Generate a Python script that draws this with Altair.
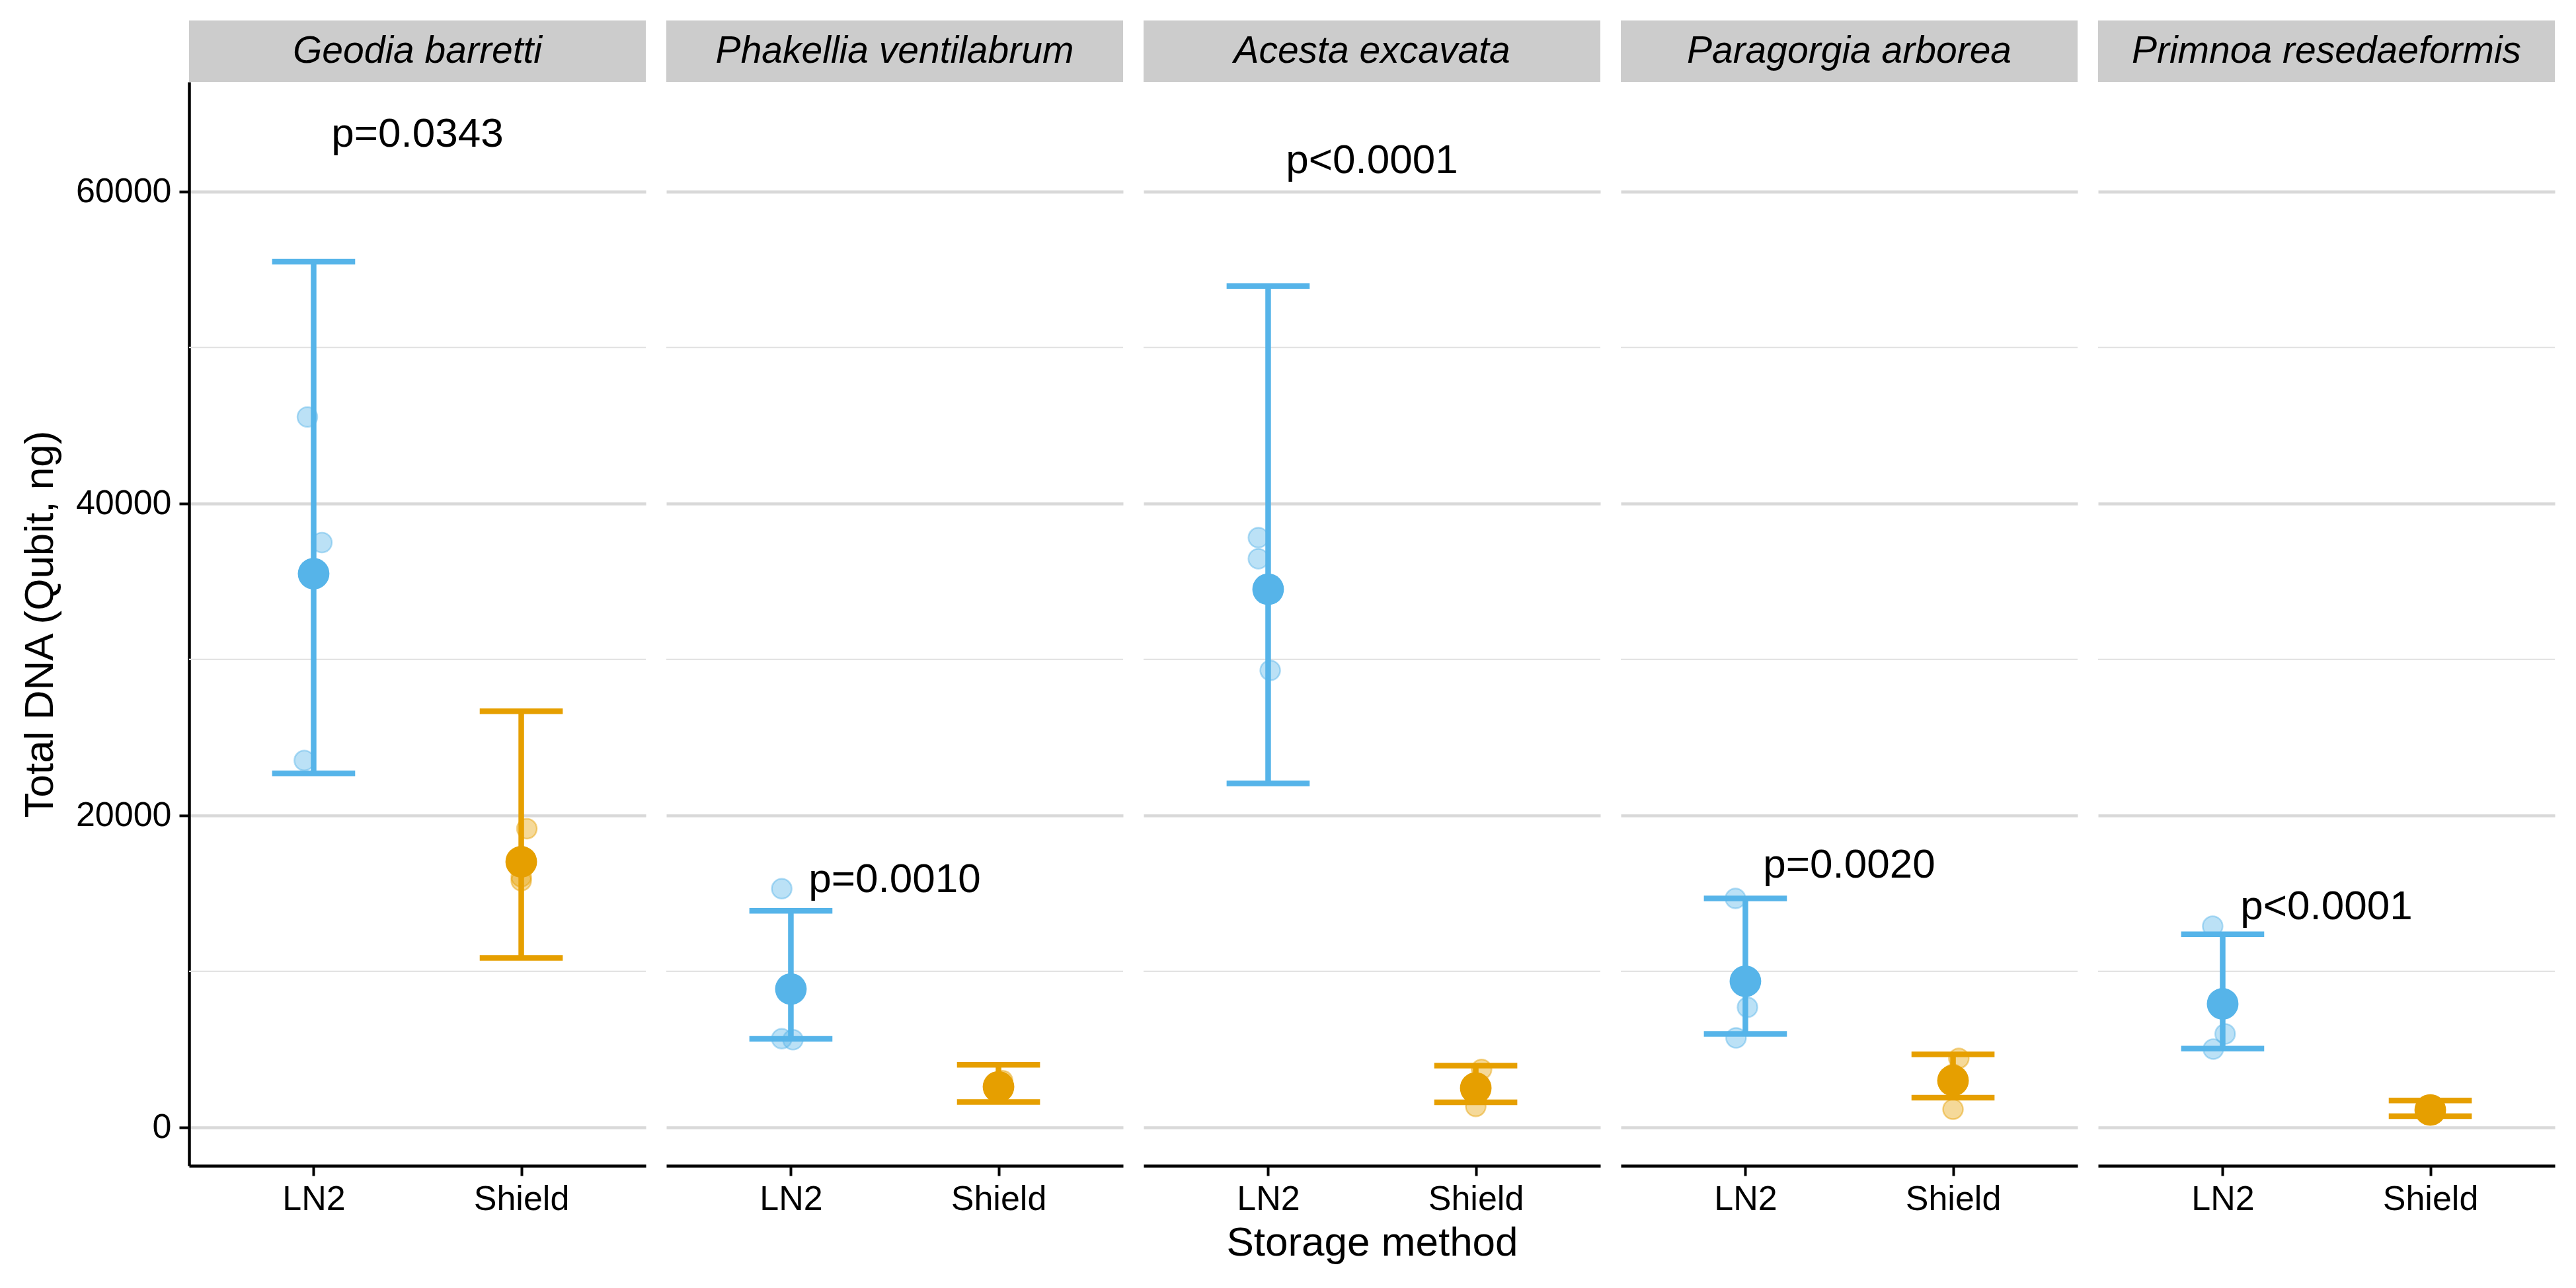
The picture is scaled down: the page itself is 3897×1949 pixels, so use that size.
import altair as alt
import pandas as pd

# ---------------- data ----------------
species = ["Geodia barretti", "Phakellia ventilabrum", "Acesta excavata",
           "Paragorgia arborea", "Primnoa resedaeformis"]
methods = ["LN2", "Shield"]

ln2_mean = [35500, 8870, 34500, 9370, 7920]
ln2_lo = [22700, 5680, 22050, 5990, 5050]
ln2_hi = [55500, 13890, 53950, 14680, 12380]

shield_mean = [17030, 2600, 2520, 3000, 1115]
shield_lo = [10870, 1630, 1610, 1900, 715]
shield_hi = [26680, 4010, 3960, 4680, 1725]

ln2_points = [[45550, 37500, 23520], [15300, 5690, 5620], [37810, 36460, 29300],
              [14680, 7700, 5735], [12900, 5990, 5020]]
ln2_jitter = [[-0.03, 0.04, -0.045], [-0.044, -0.044, 0.01], [-0.047, -0.047, 0.01],
              [-0.048, 0.01, -0.045], [-0.048, 0.012, -0.045]]
shield_points = [[19150, 16070, 15810], [3000, 2550, 2250], [3720, 2500, 1340],
                 [4430, 3410, 1160], [1400, 1100, 850]]
shield_jitter = [[0.027, 0.0, 0.0], [0.02, 0.0, -0.01], [0.028, 0.0, 0.0],
                 [0.028, 0.0, 0.0], [0.0, 0.01, 0.0]]

p_labels = ["p=0.0343", "p=0.0010", "p<0.0001", "p=0.0020", "p<0.0001"]
p_label_y = [63700, 15870, 61980, 16800, 14160]

y_ticks = [0, 20000, 40000, 60000]
y_minor = [10000, 30000, 50000]
y_domain = [-2460, 67030]

colors = ["#56B4E9", "#E69F00"]
FONT = "Liberation Sans"

# ---------------- tables ----------------
sum_rows, pt_rows, lab_rows = [], [], []
for i, sp in enumerate(species):
    for j, (m, mn, lo, hi, pts, jit) in enumerate([
        ("LN2", ln2_mean[i], ln2_lo[i], ln2_hi[i], ln2_points[i], ln2_jitter[i]),
        ("Shield", shield_mean[i], shield_lo[i], shield_hi[i], shield_points[i], shield_jitter[i]),
    ]):
        pos = methods.index(m) + 1
        sum_rows.append(dict(species=sp, method=m, pos=pos, mean=mn, lo=lo, hi=hi))
        for v, jx in zip(pts, jit):
            pt_rows.append(dict(species=sp, method=m, xj=pos + jx, value=v))
    lab_rows.append(dict(species=sp, label=p_labels[i], px=(1 + len(methods)) / 2,
                         py=p_label_y[i]))

summary = pd.DataFrame(sum_rows)
points = pd.DataFrame(pt_rows)
labels = pd.DataFrame(lab_rows)
minor = pd.DataFrame({"v": y_minor})

W, H = 691, 1640
STRIP = 93

color_scale = alt.Scale(domain=methods, range=colors)
yscale = alt.Scale(domain=y_domain, nice=False, zero=False)
xscale = alt.Scale(domain=[0.4, 2.6], nice=False, zero=False)
label_expr = f"datum.value == 1 ? '{methods[0]}' : '{methods[1]}'"

AX = dict(labelFont=FONT, labelFontSize=52, labelColor="black",
          titleFont=FONT, titleFontSize=62, titleFontWeight="normal", titleColor="black",
          domainColor="black", domainWidth=4.5, tickColor="black", tickWidth=4,
          tickSize=15, gridColor="#D9D9D9", gridWidth=4.5)


def panel(i):
    sp = species[i]
    s = summary[summary.species == sp]
    p = points[points.species == sp]
    lab = labels[labels.species == sp]

    if i == 0:
        yaxis = alt.Axis(values=y_ticks, format="d", title="Total DNA (Qubit, ng)",
                         grid=True, titlePadding=22, labelPadding=12, **AX)
    else:
        yaxis = alt.Axis(values=y_ticks, labels=False, ticks=False, domain=False,
                         title=None, grid=True, gridColor="#D9D9D9", gridWidth=4.5)
    xaxis = alt.Axis(values=[1, 2], labelExpr=label_expr, grid=False,
                     title="Storage method" if i == 2 else None, titlePadding=10,
                     labelPadding=10, **AX)

    Y = lambda f: alt.Y(f, scale=yscale, axis=yaxis)
    X = lambda f: alt.X(f, scale=xscale, axis=xaxis)
    col = alt.Color("method:N", scale=color_scale, legend=None)

    minor_grid = alt.Chart(minor).mark_rule(color="#E3E3E3", strokeWidth=2.2).encode(
        y=Y("v:Q"))
    strip = alt.Chart(lab).mark_rect(color="#CCCCCC").encode(
        x=alt.value(0), x2=alt.value(W), y=alt.value(-STRIP), y2=alt.value(0))
    strip_text = alt.Chart(lab).mark_text(
        font=FONT, fontSize=57, fontStyle="italic", color="black",
        align="center", baseline="middle").encode(
        x=alt.value(W / 2), y=alt.value(-STRIP / 2), text="species:N")
    pts = alt.Chart(p).mark_circle(size=900, fillOpacity=0.4, strokeOpacity=0.45,
                                   strokeWidth=2.5).encode(
        x=X("xj:Q"), y=Y("value:Q"), color=col,
        stroke=alt.Stroke("method:N", scale=color_scale, legend=None))
    stem = alt.Chart(s).mark_rule(strokeWidth=8.5).encode(
        x=X("pos:Q"), y=Y("lo:Q"), y2="hi:Q", color=col)
    caps = alt.Chart(s).transform_calculate(
        xl="datum.pos - 0.2", xr="datum.pos + 0.2")
    cap_hi = caps.mark_rule(strokeWidth=8.5).encode(
        x=X("xl:Q"), x2="xr:Q", y=Y("hi:Q"), color=col)
    cap_lo = caps.mark_rule(strokeWidth=8.5).encode(
        x=X("xl:Q"), x2="xr:Q", y=Y("lo:Q"), color=col)
    means = alt.Chart(s).mark_circle(size=2290, opacity=1).encode(
        x=X("pos:Q"), y=Y("mean:Q"), color=col)
    ptxt = alt.Chart(lab).mark_text(font=FONT, fontSize=62, color="black",
                                    align="center", baseline="middle").encode(
        x=X("px:Q"), y=Y("py:Q"), text="label:N")

    return alt.layer(minor_grid, strip, strip_text, pts, stem, cap_hi, cap_lo,
                     means, ptxt).properties(width=W, height=H)


chart = alt.hconcat(*[panel(i) for i in range(len(species))], spacing=31,
                    bounds="flush").properties(
    padding={"left": 21, "top": 23, "right": 5, "bottom": 5},
    background="white",
).configure_view(stroke=None)

chart.save("out.html", embed_options={"renderer": "svg", "actions": False})
